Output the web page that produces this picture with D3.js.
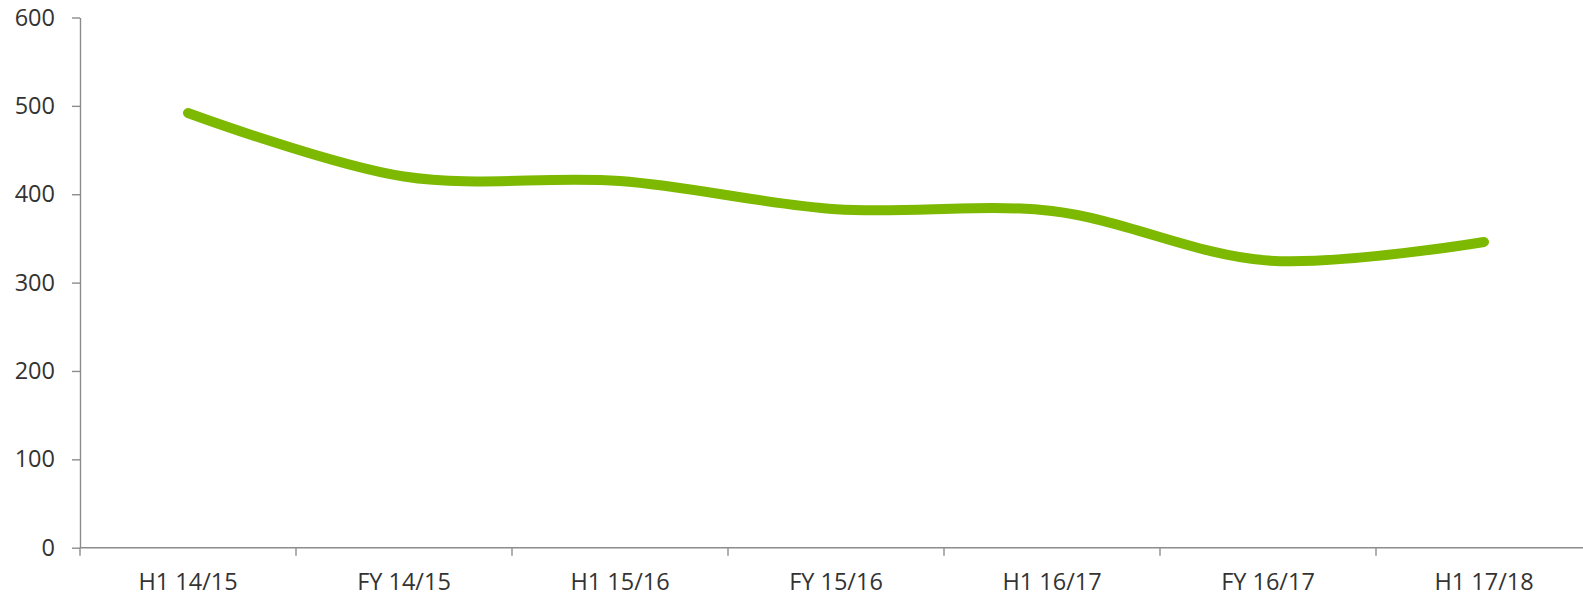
<!DOCTYPE html>
<html>
<head>
<meta charset="utf-8">
<script src="https://cdn.jsdelivr.net/npm/d3@7/dist/d3.min.js"></script>
<style>
  html, body { margin: 0; padding: 0; background: #fff; }
  svg { display: block; }
  .axis text { font-family: "Open Sans", "Noto Sans", sans-serif; font-size: 23.5px; fill: #333; }
  .axis path, .axis line { stroke: #8c8c8c; stroke-width: 1.4; }
</style>
</head>
<body>
<svg id="chart" width="1583" height="597"></svg>
<script>
// Reporting periods and their values
const periods = ["H1 14/15", "FY 14/15", "H1 15/16", "FY 15/16", "H1 16/17", "FY 16/17", "H1 17/18"];
const values = [492, 420, 415, 383, 381, 325, 346];
const yTicks = [0, 100, 200, 300, 400, 500, 600];

const svg = d3.select("#chart");
const plotLeft = 80, plotBottom = 547.7, plotTop = 17.5, bandWidth = 216;

const x = d3.scaleBand()
  .domain(periods)
  .range([plotLeft, plotLeft + bandWidth * periods.length])
  .paddingInner(0).paddingOuter(0);

const y = d3.scaleLinear().domain([0, 600]).range([plotBottom, plotTop]);

// Value axis
svg.append("g")
  .attr("class", "axis")
  .attr("transform", `translate(${plotLeft},0)`)
  .call(d3.axisLeft(y).tickValues(yTicks).tickSizeInner(8).tickSizeOuter(0).tickPadding(17));

// Category axis: labels centred in each band, tick marks on band boundaries
const xAxis = svg.append("g")
  .attr("class", "axis")
  .attr("transform", `translate(0,${plotBottom})`)
  .call(d3.axisBottom(x).tickSize(0).tickPadding(26));
xAxis.select(".domain").remove();

const bounds = periods.map(p => x(p)).concat([x(periods[periods.length - 1]) + x.bandwidth()]);
const xg = svg.append("g").attr("class", "axis");
xg.append("line")
  .attr("x1", plotLeft).attr("x2", bounds[bounds.length - 1])
  .attr("y1", plotBottom).attr("y2", plotBottom);
xg.selectAll("line.tick")
  .data(bounds)
  .join("line")
  .attr("class", "tick")
  .attr("x1", d => d).attr("x2", d => d)
  .attr("y1", plotBottom).attr("y2", plotBottom + 8);

// Smoothed series line
const line = d3.line()
  .x((d, i) => x(periods[i]) + x.bandwidth() / 2)
  .y(d => y(d))
  .curve(d3.curveCatmullRom.alpha(0.5));

svg.append("path")
  .datum(values)
  .attr("d", line)
  .attr("fill", "none")
  .attr("stroke", "#7db900")
  .attr("stroke-width", 10)
  .attr("stroke-linecap", "round")
  .attr("stroke-linejoin", "round");
</script>
</body>
</html>
